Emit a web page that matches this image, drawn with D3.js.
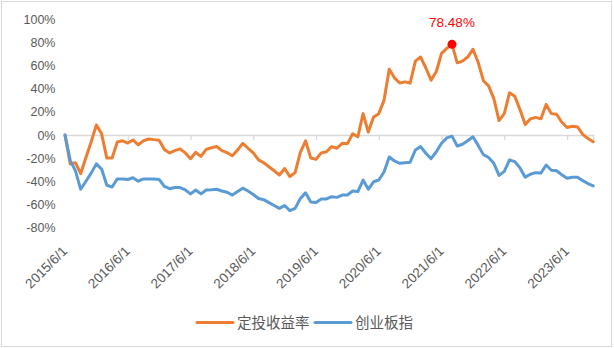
<!DOCTYPE html>
<html>
<head>
<meta charset="utf-8">
<script src="https://cdn.jsdelivr.net/npm/d3@7"></script>
<style>
  html, body { margin: 0; padding: 0; background: #fff; }
  svg { display: block; }
</style>
</head>
<body>
<svg id="chart" width="614" height="348"></svg>
<script>
// Monthly series, June 2015 through November 2023 (percent)
const seriesNames = ["定投收益率", "创业板指"];

const planReturn = [
  0, -25, -24, -33.5, -19.5, -6, 8.7, 1, -20, -20,
  -6, -5, -7, -4.3, -8.5, -5, -3.5, -4, -4.5, -12.5,
  -15.5, -13.5, -12, -15.5, -20.5, -15, -18.5, -12.5, -11, -10,
  -13.5, -15.3, -18, -13, -7.2, -11.5, -15.5, -21.5, -24, -27.5,
  -31, -34.6, -29, -36, -32.6, -15, -5, -20, -21, -15.5,
  -14.5, -10, -11.5, -7.2, -7.5, 1, -1.5, 18.5, 2.5, 15.5,
  18.5, 30, 57, 49.5, 45, 46, 45, 64, 67.5, 58,
  47.5, 55, 70.7, 75, 78.48, 62.5, 64, 67.5, 74.2, 63,
  47, 42.5, 31.5, 12.5, 18.5, 36.6, 33.5, 22, 9, 14,
  15.3, 14, 26.5, 18.5, 18, 11, 6.5, 7.5, 7, 0.5,
  -3, -5.8
];

const chinext = [
  0, -22, -31, -47, -40, -33, -25, -29.5, -43.5, -45,
  -38, -38, -38.5, -37, -40, -38, -38, -38, -38.5, -44.5,
  -46.5, -45.5, -45.5, -47.5, -51, -47.6, -51, -47.6, -47.5, -47,
  -48.5, -49.6, -52, -49, -46, -48.5, -51.5, -55, -56, -58.5,
  -61, -63.5, -61, -65.5, -63.5, -55, -50, -58, -58.5, -55.4,
  -55.4, -53.4, -54, -52, -52, -48.5, -49, -39, -47, -40.5,
  -39, -32, -19, -22.5, -24.5, -24, -23.5, -13, -10, -15.8,
  -20.5, -14.5, -7.2, -2.5, -1, -9.5, -8, -5, -1.5, -9,
  -17, -19.5, -24.5, -35, -31.5, -21.5, -23, -28.5, -36.5, -34,
  -32.6, -33, -26, -30.5, -31, -34.5, -37.5, -36.6, -36.6, -39.5,
  -42, -44
];

const xTickLabels = [
  "2015/6/1", "2016/6/1", "2017/6/1", "2018/6/1", "2019/6/1",
  "2020/6/1", "2021/6/1", "2022/6/1", "2023/6/1"
];

const yTicks = [-80, -60, -40, -20, 0, 20, 40, 60, 80, 100];

// Month categories for the x axis
const fmtMonth = d => `${d.getUTCFullYear()}/${d.getUTCMonth() + 1}/1`;
const months = d3.utcMonth
  .range(new Date(Date.UTC(2015, 5, 1)), new Date(Date.UTC(2023, 11, 1)))
  .map(fmtMonth);

const colors = ["#ED7D31", "#5B9BD5"];
const textGray = "#595959";
const lineGray = "#D9D9D9";

const svg = d3.select("#chart");

// Outer chart frame
svg.append("rect")
  .attr("x", 1.5).attr("y", 1.5)
  .attr("width", 610).attr("height", 345)
  .attr("fill", "#fff")
  .attr("stroke", lineGray)
  .attr("stroke-width", 1);

const x = d3.scalePoint().domain(months).range([65, 593.2]);
const y = d3.scaleLinear().domain([-80, 100]).range([227.4, 19.5]);

// Y axis labels
svg.append("g")
  .selectAll("text")
  .data(yTicks)
  .join("text")
  .attr("x", 55.5)
  .attr("y", d => y(d))
  .attr("dy", "0.36em")
  .attr("text-anchor", "end")
  .attr("font-family", "'Liberation Sans', Arial, sans-serif")
  .attr("font-size", 12.5)
  .attr("fill", textGray)
  .text(d => d + "%");

// Horizontal category axis crossing at zero
const xAxis = d3.axisBottom(x)
  .tickValues(xTickLabels)
  .tickSize(5)
  .tickFormat("");

const axisG = svg.append("g")
  .attr("transform", `translate(0,${y(0)})`)
  .call(xAxis);
axisG.select(".domain").attr("stroke", lineGray).attr("stroke-width", 1.3);
axisG.selectAll(".tick line").attr("stroke", lineGray).attr("stroke-width", 1.3);

// Rotated date labels along the bottom
svg.append("g")
  .selectAll("text")
  .data(xTickLabels)
  .join("text")
  .attr("transform", d => `translate(${x(d) + 3},252) rotate(-45)`)
  .attr("text-anchor", "end")
  .attr("font-family", "'Liberation Sans', Arial, sans-serif")
  .attr("font-size", 13.5)
  .attr("fill", textGray)
  .text(d => d);

// Series lines
const line = d3.line()
  .x((d, i) => x(months[i]))
  .y(d => y(d));

[planReturn, chinext].forEach((s, i) => {
  svg.append("path")
    .datum(s)
    .attr("d", line)
    .attr("fill", "none")
    .attr("stroke", colors[i])
    .attr("stroke-width", 3)
    .attr("stroke-linejoin", "round")
    .attr("stroke-linecap", "round");
});

// Highlight the peak of the plan return
const peakIdx = d3.maxIndex(planReturn);
const peakVal = planReturn[peakIdx];
svg.append("circle")
  .attr("cx", x(months[peakIdx]))
  .attr("cy", y(peakVal))
  .attr("r", 4.5)
  .attr("fill", "#FF0000");
svg.append("text")
  .attr("x", x(months[peakIdx]))
  .attr("y", 26.5)
  .attr("text-anchor", "middle")
  .attr("font-family", "'Liberation Sans', Arial, sans-serif")
  .attr("font-size", 13.5)
  .attr("fill", "#FF0000")
  .text(d3.format(".2f")(peakVal) + "%");

// Legend
const legendItems = [
  { name: seriesNames[0], color: colors[0], x0: 197 },
  { name: seriesNames[1], color: colors[1], x0: 315 }
];
const lg = svg.append("g");
legendItems.forEach(it => {
  lg.append("line")
    .attr("x1", it.x0).attr("x2", it.x0 + 36)
    .attr("y1", 322.5).attr("y2", 322.5)
    .attr("stroke", it.color)
    .attr("stroke-width", 3)
    .attr("stroke-linecap", "round");
  lg.append("text")
    .attr("x", it.x0 + 40)
    .attr("y", 322.5)
    .attr("dy", "0.36em")
    .attr("font-family", "'Noto Sans CJK SC', sans-serif")
    .attr("font-size", 14.5)
    .attr("fill", textGray)
    .text(it.name);
});
</script>
</body>
</html>
